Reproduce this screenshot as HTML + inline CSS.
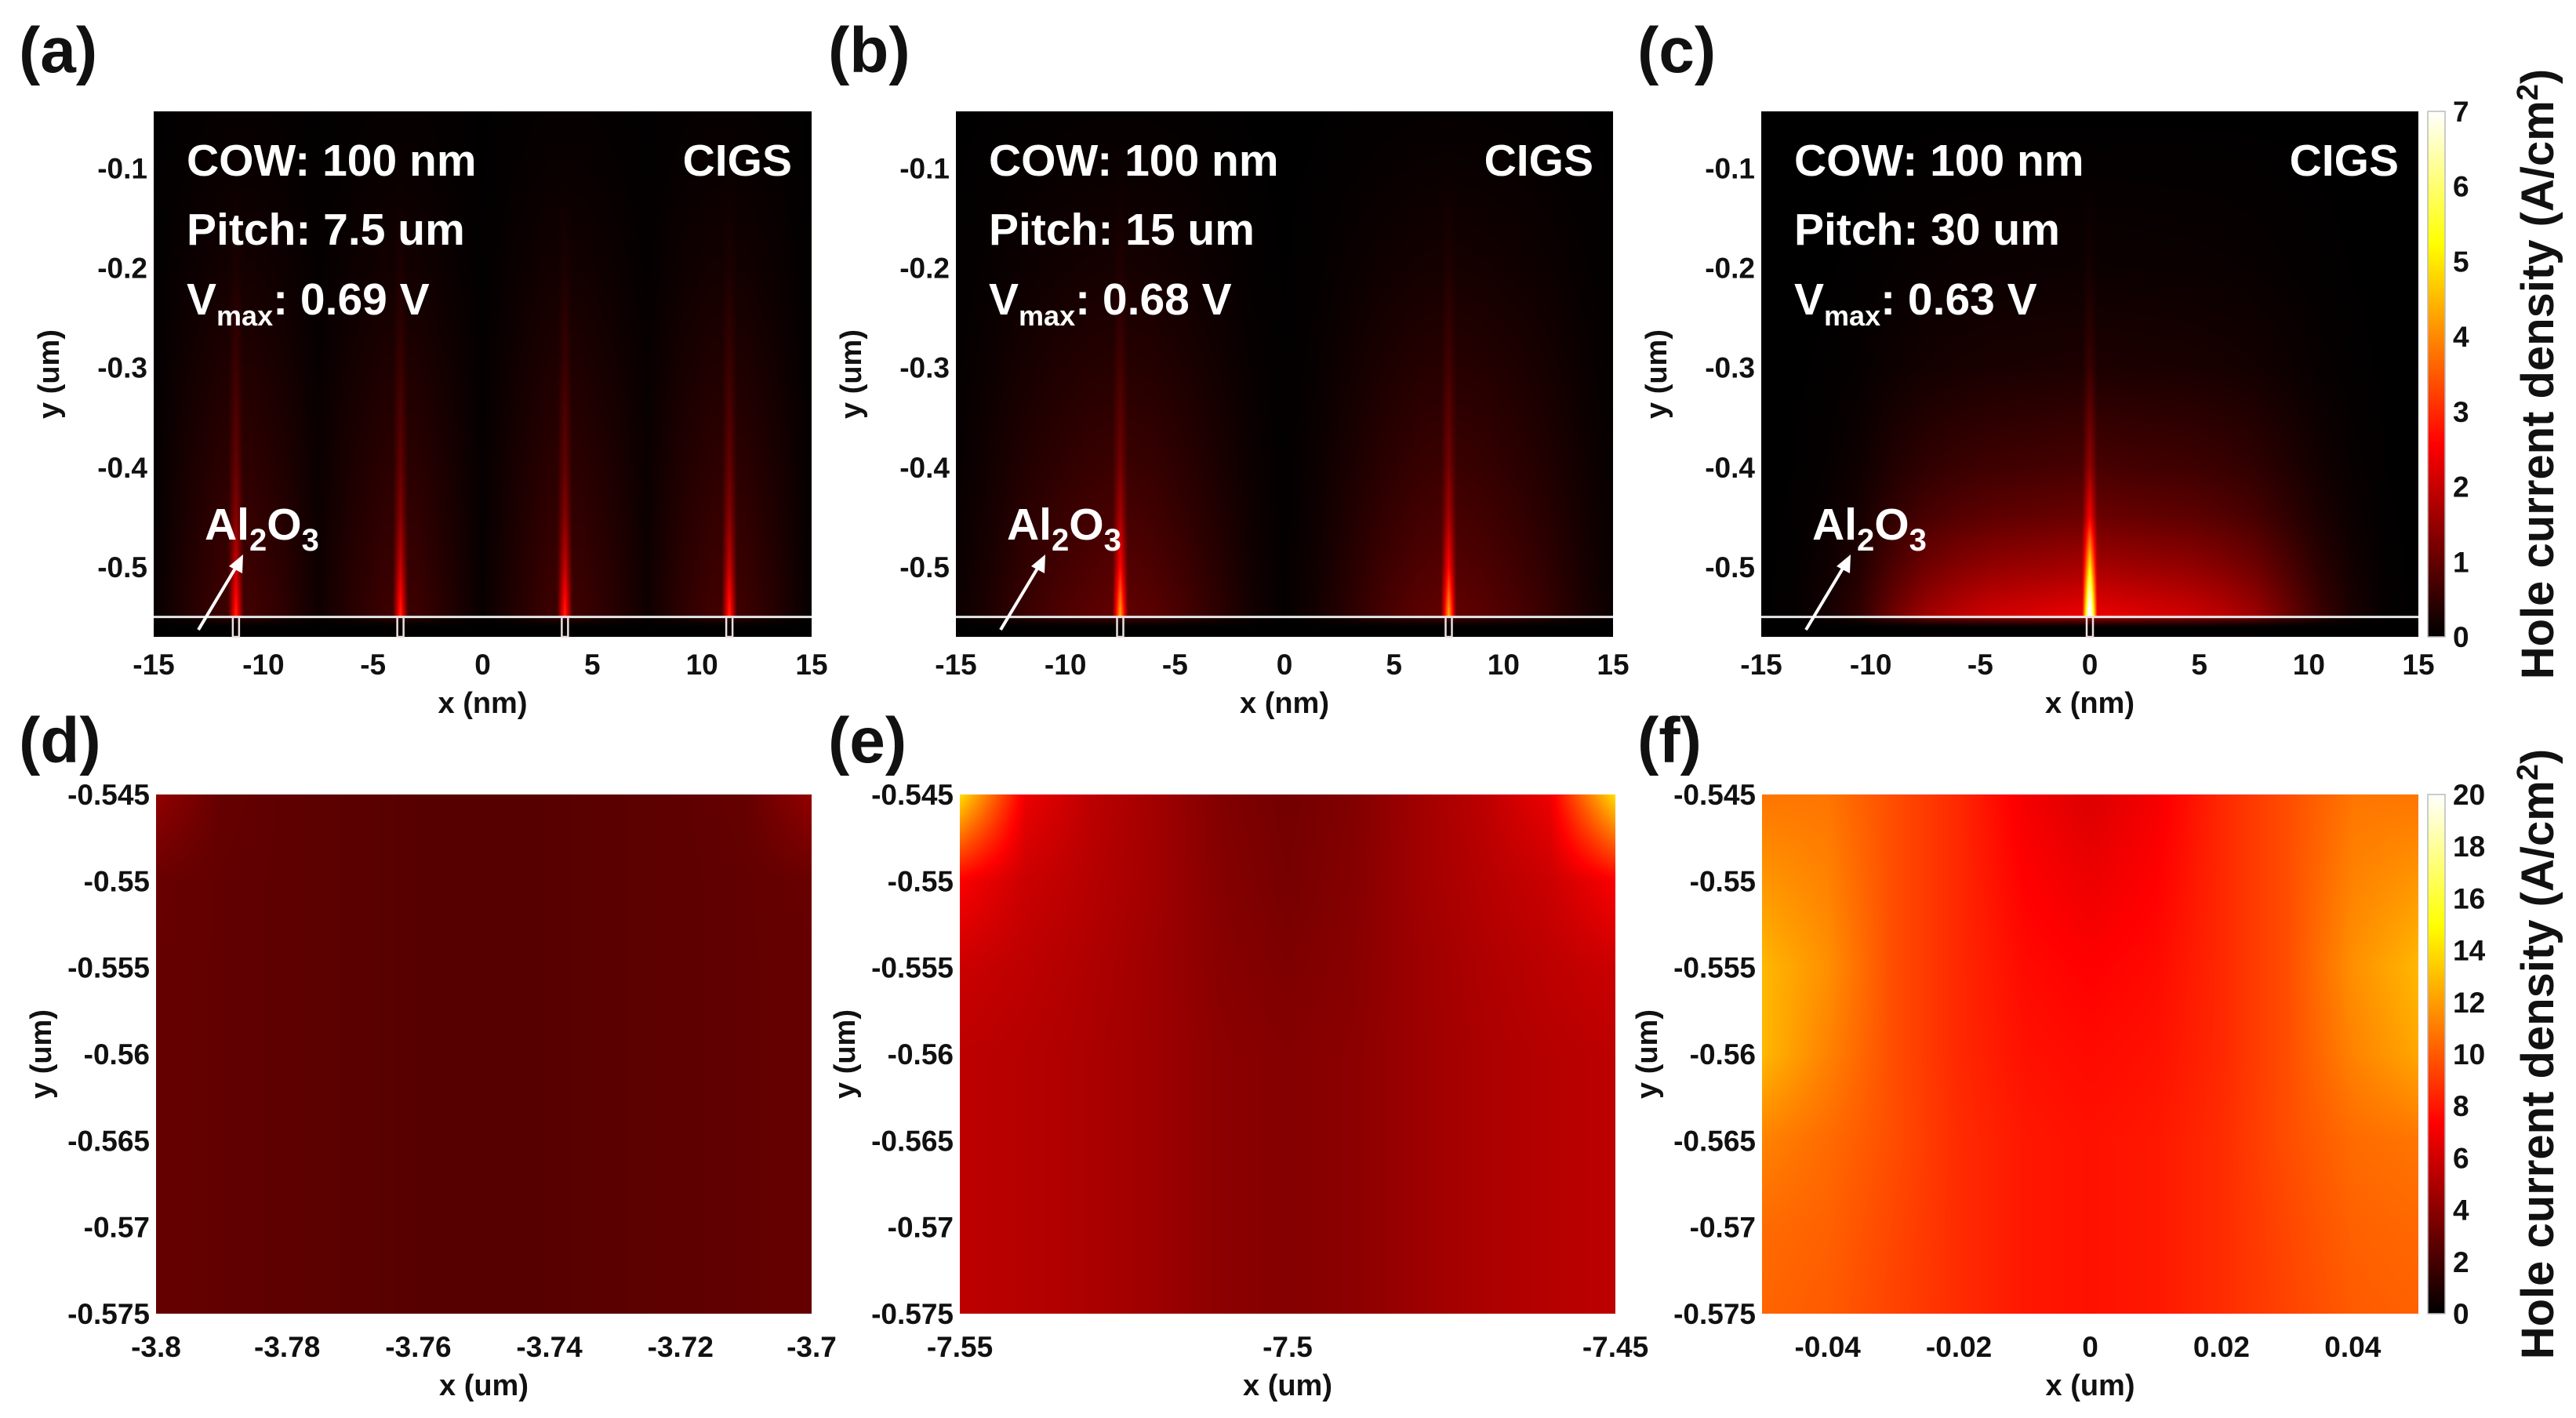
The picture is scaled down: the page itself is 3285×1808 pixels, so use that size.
<!DOCTYPE html>
<html><head><meta charset="utf-8">
<style>
html,body{margin:0;padding:0;background:#fff;}
#root{position:relative;width:3285px;height:1808px;overflow:hidden;background:#fff;font-family:"Liberation Sans",sans-serif;}
canvas{position:absolute;}
svg{position:absolute;left:0;top:0;}
text{font-family:"Liberation Sans",sans-serif;font-weight:bold;}
</style></head>
<body>
<div id="root">
<svg id="ov" width="3285" height="1808"></svg>
</div>
<script>
// ===== DATA =====
const topXTicks = [-15,-10,-5,0,5,10,15];
const topYTicks = [-0.1,-0.2,-0.3,-0.4,-0.5];
const topCbTicks = [0,1,2,3,4,5,6,7];
const topYLevels = [-0.55,-0.5,-0.45,-0.4,-0.3,-0.2,-0.1,-0.04];
const glowX = [-15,-13.5,-12,-10.5,-9,-7.5,-6,-4.5,-3,-1.5,0,1.5,3,4.5,6,7.5,9,10.5,12,13.5,15];
const peaksA = [-11.25,-3.75,3.75,11.25];
const peaksB = [-7.5,7.5];
const peaksC = [0];
const glowA = [0.05,0.35,0.6,0.65,0.45,0.15,0.4,0.6,0.6,0.35,0.08,0.35,0.6,0.6,0.4,0.15,0.45,0.65,0.6,0.35,0.05];
const glowB = [0.1,0.3,0.55,0.75,0.9,1.0,0.9,0.7,0.45,0.2,0.05,0.2,0.45,0.7,0.9,1.0,0.9,0.75,0.55,0.3,0.1];
const glowC = [0.0,0.05,0.2,0.5,1.1,1.6,1.9,2.1,2.2,2.3,2.4,2.3,2.2,2.1,1.9,1.6,1.1,0.6,0.25,0.05,0.0];
const decayA = [1,0.9,0.8,0.7,0.5,0.3,0.15,0.1];
const decayB = [1,0.85,0.72,0.6,0.4,0.22,0.1,0.05];
const decayC = [1,0.7,0.45,0.3,0.12,0.05,0.02,0];
const spikeA = [2.5,1.5,0.9,0.6,0.3,0.1,0,0];
const spikeB = [3.5,1.8,1.0,0.6,0.3,0.1,0,0];
const spikeC = [6,3.5,1.5,0.8,0.3,0.1,0,0];
const botYTicks = [-0.545,-0.55,-0.555,-0.56,-0.565,-0.57,-0.575];
const dXTicks = [-3.8,-3.78,-3.76,-3.74,-3.72,-3.7];
const eXTicks = [-7.55,-7.5,-7.45];
const fXTicks = [-0.04,-0.02,0,0.02,0.04];
const botCbTicks = [0,2,4,6,8,10,12,14,16,18,20];
const gridD = [
 [4.2,2.9,2.7,2.6,2.5,2.5,2.5,2.6,2.7,2.9,4.2],
 [3.0,2.8,2.7,2.6,2.5,2.5,2.5,2.6,2.7,2.8,3.0],
 [2.9,2.8,2.7,2.6,2.5,2.5,2.5,2.6,2.7,2.8,2.9],
 [2.9,2.8,2.7,2.6,2.5,2.5,2.5,2.6,2.7,2.8,2.9],
 [2.9,2.8,2.7,2.6,2.5,2.5,2.5,2.6,2.7,2.8,2.9],
 [2.9,2.8,2.7,2.6,2.5,2.5,2.5,2.6,2.7,2.8,2.9],
 [2.9,2.8,2.7,2.6,2.5,2.5,2.5,2.6,2.7,2.8,2.9]];
const gridE = [
 [14,6.8,5.4,4.6,3.7,3.3,3.7,4.6,5.4,6.8,14],
 [7.2,5.8,5.2,4.6,3.8,3.4,3.8,4.6,5.2,5.8,7.2],
 [5.8,5.4,5.0,4.5,3.9,3.6,3.9,4.5,5.0,5.4,5.8],
 [5.4,5.2,4.9,4.5,4.0,3.8,4.0,4.5,4.9,5.2,5.4],
 [5.4,5.2,4.9,4.5,4.0,3.8,4.0,4.5,4.9,5.2,5.4],
 [5.4,5.2,4.9,4.5,4.0,3.8,4.0,4.5,4.9,5.2,5.4],
 [5.4,5.2,4.9,4.5,4.0,3.8,4.0,4.5,4.9,5.2,5.4]];
const gridF = [
 [10.8,10.8,9.6,8.5,7,6.3,7,8.5,9.6,10.8,10.8],
 [11.8,11.2,9.6,8.5,7.3,6.8,7.3,8.5,9.6,11.2,11.8],
 [12.8,11.6,9.6,8.5,7.6,7.3,7.6,8.5,9.6,11.6,12.8],
 [12.8,11.2,9.6,8.5,7.8,7.6,7.8,8.5,9.6,11.2,12.3],
 [11.2,10.5,9.6,8.6,8,7.8,8,8.6,9.6,10.5,10.8],
 [10.5,10.2,9.4,8.6,8,7.8,8,8.6,9.4,10.2,10.4],
 [10.3,10,9.3,8.6,8,7.8,8,8.6,9.3,10,10.2]];

// ===== LAYOUT =====
const NS='http://www.w3.org/2000/svg';
const ov=document.getElementById('ov');
const root=document.getElementById('root');
const topPanels=[
 {id:'a',x0:196,x1:1035,pitch:'7.5 um',v:'0.69 V',peaks:peaksA,glow:glowA,decay:decayA,spike:spikeA,lx:24},
 {id:'b',x0:1219,x1:2057,pitch:'15 um',v:'0.68 V',peaks:peaksB,glow:glowB,decay:decayB,spike:spikeB,lx:1056},
 {id:'c',x0:2246,x1:3084,pitch:'30 um',v:'0.63 V',peaks:peaksC,glow:glowC,decay:decayC,spike:spikeC,lx:2088}];
const TY0=142,TY1=812, TYMAX=-0.043, TYMIN=-0.57;
const botPanels=[
 {id:'d',x0:199,x1:1035,grid:gridD,ticks:dXTicks,xmin:-3.8,xmax:-3.7,lx:24},
 {id:'e',x0:1224,x1:2060,grid:gridE,ticks:eXTicks,xmin:-7.55,xmax:-7.45,lx:1056},
 {id:'f',x0:2247,x1:3084,grid:gridF,ticks:fXTicks,xmin:-0.05,xmax:0.05,lx:2088}];
const BY0=1013,BY1=1675, BYMAX=-0.545, BYMIN=-0.575;

function clamp(v){return v<0?0:v>1?1:v;}
function hot(t){t=clamp(t);return [255*clamp(t/0.365),255*clamp((t-0.365)/0.381),255*clamp((t-0.746)/0.254)];}
function interp(xs,vs,x){
  if(x<=xs[0])return vs[0];
  for(let i=1;i<xs.length;i++){if(x<=xs[i]){const f=(x-xs[i-1])/(xs[i]-xs[i-1]);return vs[i-1]+f*(vs[i]-vs[i-1]);}}
  return vs[vs.length-1];
}
function sv(tag,attrs,txt){const e=document.createElementNS(NS,tag);for(const k in attrs)e.setAttribute(k,attrs[k]);if(txt!==undefined)e.textContent=txt;ov.appendChild(e);return e;}
function mkCanvas(x,y,w,h){const c=document.createElement('canvas');c.width=w;c.height=h;c.style.left=x+'px';c.style.top=y+'px';root.insertBefore(c,ov);return c;}
function fmt(v){return String(Math.round(v*1000)/1000);}

// ===== TOP PANELS =====
topPanels.forEach(p=>{
  const w=p.x1-p.x0,h=TY1-TY0;
  const xs=v=>p.x0+(v+15)/30*w;
  const ys=v=>TY0+(TYMAX-v)/(TYMAX-TYMIN)*h;
  const c=mkCanvas(p.x0,TY0,w,h);
  
  
  const ctx=c.getContext('2d');const img=ctx.createImageData(w,h);
  for(let py=0;py<h;py++){
    const y=TYMAX-(py+0.5)/h*(TYMAX-TYMIN);
    const dec=interp(topYLevels,p.decay,y), sp=interp(topYLevels,p.spike,y);
    for(let px=0;px<w;px++){
      const x=-15+(px+0.5)/w*30;
      let v;
      const g=interp(glowX,p.glow,x);
      if(y<-0.55){v=g*Math.max(0,1-(-0.55-y)/0.01)*0.6;}
      else{v=g*dec;for(const pk of p.peaks){const d=Math.abs(x-pk);if(d<0.35)v+=sp*(1-d/0.35);}}
      const col=hot(v/7);const i=(py*w+px)*4;
      img.data[i]=col[0];img.data[i+1]=col[1];img.data[i+2]=col[2];img.data[i+3]=255;
    }
  }
  ctx.putImageData(img,0,0);
  const li=sv('line',{x1:p.x0,x2:p.x1,y1:ys(-0.55),y2:ys(-0.55),stroke:'#e6e6e6','stroke-width':3});
  
  
  p.peaks.forEach(pk=>{
    const r=sv('rect',{x:xs(pk)-4,y:ys(-0.55),width:8,height:TY1-ys(-0.55),fill:'none',stroke:'#f0e0e0','stroke-width':2.5});
    
    
  });
  topXTicks.forEach(t=>{
    const e=sv('text',{x:xs(t),y:860,'font-size':37,'text-anchor':'middle',fill:'#111'},String(t));
    
    
  });
  topYTicks.forEach(t=>{
    const e=sv('text',{x:p.x0-8,y:ys(t)+13,'font-size':37,'text-anchor':'end',fill:'#111'},String(t));
    
    
  });
  const xt=sv('text',{x:(p.x0+p.x1)/2,y:909,'font-size':38,'text-anchor':'middle',fill:'#111'},'x (nm)');
  
  
  const yt=sv('text',{x:0,y:0,'font-size':38,'text-anchor':'middle',fill:'#111',transform:`translate(${p.x0-121},${(TY0+TY1)/2}) rotate(-90)`},'y (um)');
  
  
  const t1=sv('text',{x:p.x0+42,y:224,'font-size':57,fill:'#fff'},'COW: 100 nm');
  
  
  const t2=sv('text',{x:p.x0+42,y:312,'font-size':57,fill:'#fff'},'Pitch: '+p.pitch);
  
  
  const t3=sv('text',{x:p.x0+42,y:401,'font-size':57,fill:'#fff'});
  
  
  t3.innerHTML='V<tspan font-size="36" dy="14">max</tspan><tspan dy="-14">: '+p.v+'</tspan>';
  const t4=sv('text',{x:p.x1-25,y:224,'font-size':57,fill:'#fff','text-anchor':'end'},'CIGS');
  
  
  const t5=sv('text',{x:p.x0+65,y:688,'font-size':57,fill:'#fff'});
  
  
  t5.innerHTML='Al<tspan font-size="40" dy="14">2</tspan><tspan dy="-14">O</tspan><tspan font-size="40" dy="14">3</tspan>';
  const ar=sv('line',{x1:p.x0+57,y1:803,x2:p.x0+108,y2:718,stroke:'#fff','stroke-width':4});
  
  
  const ah=sv('polygon',{points:`${p.x0+114},${707} ${p.x0+96},${722} ${p.x0+113},${731}`,fill:'#fff'});
  
  
  const pl=sv('text',{x:p.lx,y:92,'font-size':82,fill:'#111'},'('+p.id+')');
  
  
});

// ===== BOTTOM PANELS =====
botPanels.forEach(p=>{
  const w=p.x1-p.x0,h=BY1-BY0;
  const xs=v=>p.x0+(v-p.xmin)/(p.xmax-p.xmin)*w;
  const ys=v=>BY0+(BYMAX-v)/(BYMAX-BYMIN)*h;
  const c=mkCanvas(p.x0,BY0,w,h);
  
  
  const ctx=c.getContext('2d');const img=ctx.createImageData(w,h);
  const G=p.grid,R=G.length,C=G[0].length;
  for(let py=0;py<h;py++){
    const fy=(py+0.5)/h*(R-1);const r0=Math.min(R-2,Math.floor(fy));const ty=fy-r0;
    for(let px=0;px<w;px++){
      const fx=(px+0.5)/w*(C-1);const c0=Math.min(C-2,Math.floor(fx));const tx=fx-c0;
      const v=(G[r0][c0]*(1-tx)+G[r0][c0+1]*tx)*(1-ty)+(G[r0+1][c0]*(1-tx)+G[r0+1][c0+1]*tx)*ty;
      const col=hot(v/20);const i=(py*w+px)*4;
      img.data[i]=col[0];img.data[i+1]=col[1];img.data[i+2]=col[2];img.data[i+3]=255;
    }
  }
  ctx.putImageData(img,0,0);
  p.ticks.forEach(t=>{
    const e=sv('text',{x:xs(t),y:1730,'font-size':37,'text-anchor':'middle',fill:'#111'},fmt(t));
    
    
  });
  botYTicks.forEach(t=>{
    const e=sv('text',{x:p.x0-8,y:ys(t)+13,'font-size':37,'text-anchor':'end',fill:'#111'},fmt(t));
    
    
  });
  const xt=sv('text',{x:(p.x0+p.x1)/2,y:1779,'font-size':38,'text-anchor':'middle',fill:'#111'},'x (um)');
  
  
  const yt=sv('text',{x:0,y:0,'font-size':38,'text-anchor':'middle',fill:'#111',transform:`translate(${p.x0-134},${(BY0+BY1)/2}) rotate(-90)`},'y (um)');
  
  
  const pl=sv('text',{x:p.lx,y:972,'font-size':82,fill:'#111'},'('+p.id+')');
  
  
});

// ===== COLORBARS =====
function colorbar(y0,y1,ticks,vmax,name){
  const x0=3096,w=22,h=y1-y0;
  const c=mkCanvas(x0,y0,w,h);
  
  
  const ctx=c.getContext('2d');
  for(let py=0;py<h;py++){const col=hot(1-(py+0.5)/h);ctx.fillStyle=`rgb(${col[0]|0},${col[1]|0},${col[2]|0})`;ctx.fillRect(0,py,w,1);}
  const b=sv('rect',{x:x0,y:y0,width:w,height:h,fill:'none',stroke:'#bbb','stroke-width':1.5});
  
  
  ticks.forEach(t=>{
    const yy=y1-t/vmax*h;
    const e=sv('text',{x:3128,y:yy+13,'font-size':37,fill:'#111'},String(t));
    
    
  });
  const tt=sv('text',{x:0,y:0,'font-size':58,'text-anchor':'middle',fill:'#111',transform:`translate(3256,${(y0+y1)/2}) rotate(-90)`});
  
  
  tt.innerHTML='Hole current density (A/cm<tspan font-size="38" dy="-20">2</tspan><tspan dy="20">)</tspan>';
}
colorbar(TY0,TY1,topCbTicks,7,'colorbar-top');
colorbar(BY0,BY1,botCbTicks,20,'colorbar-bottom');
</script>
</body></html>
